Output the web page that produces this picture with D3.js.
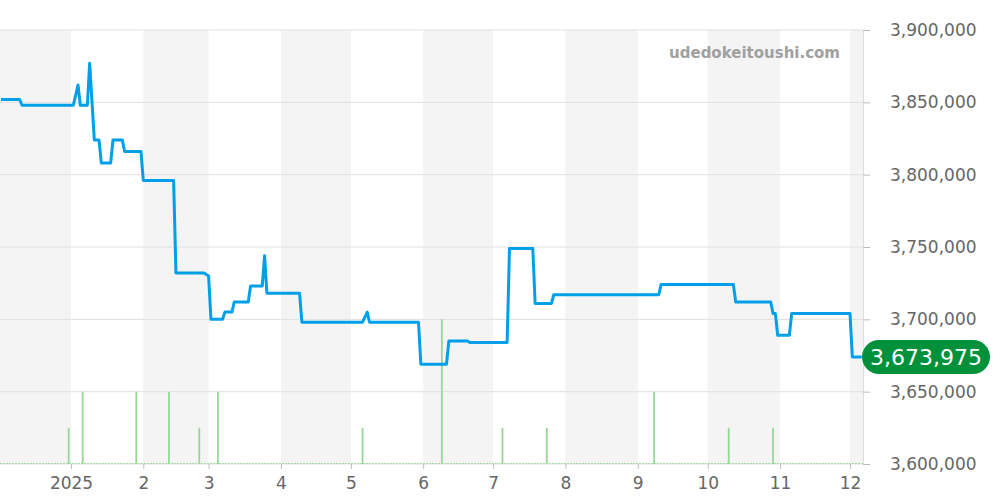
<!doctype html>
<html lang="en">
<head>
<meta charset="utf-8">
<title>Price chart</title>
<style>
  body { margin: 0; background: #fff; }
  svg { display: block; font-family: "DejaVu Sans", sans-serif; }
</style>
</head>
<body>
<div id="chart"></div>
<script src="https://cdn.jsdelivr.net/npm/d3@7"></script>
<script>
// price series (date, yen)
var priceDates = ["2024-12-02","2024-12-10","2024-12-11","2025-01-02","2025-01-04","2025-01-05","2025-01-08","2025-01-09",
  "2025-01-11","2025-01-13","2025-01-14","2025-01-18","2025-01-19","2025-01-23","2025-01-24","2025-01-31","2025-02-01",
  "2025-02-14","2025-02-15","2025-02-27","2025-03-01","2025-03-02","2025-03-07","2025-03-08","2025-03-11","2025-03-12",
  "2025-03-18","2025-03-19","2025-03-24","2025-03-25","2025-03-26","2025-04-09","2025-04-10","2025-05-06","2025-05-08",
  "2025-05-09","2025-05-30","2025-05-31","2025-06-11","2025-06-12","2025-06-20","2025-06-21","2025-07-07","2025-07-08",
  "2025-07-18","2025-07-19","2025-07-26","2025-07-27","2025-09-10","2025-09-11","2025-10-12","2025-10-13","2025-10-28",
  "2025-10-29","2025-10-30","2025-10-31","2025-11-05","2025-11-06","2025-12-01","2025-12-02","2025-12-06"];
var priceValues = [3852000,3852000,3848000,3848000,3862000,3848000,3848000,3877000,
  3824000,3824000,3808000,3808000,3824000,3824000,3816000,3816000,3796000,
  3796000,3732000,3732000,3730000,3700000,3700000,3705000,3705000,3712000,
  3712000,3723000,3723000,3744000,3718000,3718000,3698000,3698000,3705000,
  3698000,3698000,3669000,3669000,3685000,3685000,3684000,3684000,3749000,
  3749000,3711000,3711000,3717000,3717000,3724000,3724000,3712000,3712000,
  3704000,3704000,3689000,3689000,3704000,3704000,3673975,3673975];

// trade counts
var volumeDates = ["2024-12-31","2025-01-06","2025-01-29","2025-02-12","2025-02-25","2025-03-05","2025-05-06",
  "2025-06-09","2025-07-05","2025-07-24","2025-09-08","2025-10-10","2025-10-29"];
var volumeValues = [1,2,2,2,1,2,1,4,1,1,2,1,1];

var yTicks = [3600000,3650000,3700000,3750000,3800000,3850000,3900000];
var lastPrice = 3673975;
var siteName = "udedokeitoushi.com";

var W = 1000, H = 500;
var plotLeft = 0, plotRight = 863, plotTop = 30, plotBottom = 464;
var parse = d3.timeParse("%Y-%m-%d");

var svg = d3.select("#chart").append("svg")
  .attr("width", W)
  .attr("height", H);

// Jan 1 sits at x=71 and Dec 1 at x=850; stretch domain to the plot edges
var x = d3.scaleTime()
  .domain([new Date(2025, 0, 1), new Date(2025, 11, 1)])
  .range([71, 850]);
x.domain([x.invert(plotLeft), x.invert(plotRight)]).range([plotLeft, plotRight]);

var y = d3.scaleLinear()
  .domain([3600000, 3900000])
  .range([plotBottom, plotTop]);

var yVol = d3.scaleLinear()
  .domain([0, 12])
  .range([plotBottom, plotTop]);

// alternating month bands
var months = d3.timeMonth.range(d3.timeMonth.floor(x.domain()[0]), x.domain()[1]);
var shaded = months.filter(function(m) { return m.getMonth() % 2 === 1 || m.getMonth() === 11; });
svg.append("g").selectAll("rect")
  .data(shaded)
  .join("rect")
  .attr("x", function(d) { return Math.max(plotLeft, x(d)); })
  .attr("y", plotTop)
  .attr("width", function(d) {
    var end = d3.timeMonth.offset(d, 1);
    return Math.min(plotRight, x(end)) - Math.max(plotLeft, x(d));
  })
  .attr("height", plotBottom - plotTop)
  .attr("fill", "#f4f4f4");

// horizontal grid + right axis
var yAxis = svg.append("g")
  .attr("transform", "translate(" + plotRight + ",0)")
  .call(d3.axisRight(y).tickValues(yTicks).tickSize(7).tickPadding(20).tickFormat(d3.format(",")));
yAxis.select(".domain").attr("stroke", "#ddd");
yAxis.selectAll(".tick line").attr("stroke", "#bbb");
yAxis.selectAll(".tick text").attr("fill", "#666").attr("font-size", 17)
  .attr("font-family", "DejaVu Sans");

svg.append("g").selectAll("line")
  .data(yTicks)
  .join("line")
  .attr("x1", plotLeft)
  .attr("x2", plotRight)
  .attr("y1", function(d) { return y(d); })
  .attr("y2", function(d) { return y(d); })
  .attr("stroke", "#e0e0e0")
  .attr("stroke-width", 1);

// x axis
var xTicks = d3.timeMonth.range(new Date(2025, 0, 1), new Date(2025, 11, 2));
var xAxis = svg.append("g")
  .attr("transform", "translate(0," + plotBottom + ")")
  .call(d3.axisBottom(x).tickValues(xTicks).tickSize(5).tickPadding(8)
    .tickFormat(function(d) { return d.getMonth() === 0 ? d.getFullYear() : d.getMonth() + 1; }));
xAxis.select(".domain").remove();
xAxis.selectAll(".tick line").attr("stroke", "#bbb");
xAxis.selectAll(".tick text").attr("fill", "#666").attr("font-size", 17)
  .attr("font-family", "DejaVu Sans");

// volume bars
svg.append("line")
  .attr("x1", plotLeft)
  .attr("x2", plotRight)
  .attr("y1", plotBottom - 0.5)
  .attr("y2", plotBottom - 0.5)
  .attr("stroke", "#a6dca6")
  .attr("stroke-width", 1)
  .attr("stroke-dasharray", "2,1");

svg.append("g").selectAll("line")
  .data(volumeDates.map(function(d, i) { return {date: parse(d), v: volumeValues[i]}; }))
  .join("line")
  .attr("x1", function(d) { return x(d.date); })
  .attr("x2", function(d) { return x(d.date); })
  .attr("y1", plotBottom)
  .attr("y2", function(d) { return yVol(d.v); })
  .attr("stroke", "#96d996")
  .attr("stroke-width", 1.8);

// price line
var priceData = priceDates.map(function(d, i) { return {date: parse(d), v: priceValues[i]}; });
svg.append("path")
  .datum(priceData)
  .attr("fill", "none")
  .attr("stroke", "#00a0e9")
  .attr("stroke-width", 3)
  .attr("stroke-linejoin", "round")
  .attr("d", d3.line().x(function(d) { return x(d.date); }).y(function(d) { return y(d.v); }));

// watermark
svg.append("text")
  .attr("x", 840)
  .attr("y", 58)
  .attr("text-anchor", "end")
  .attr("font-size", 15)
  .attr("font-weight", "bold")
  .attr("fill", "#a0a0a0")
  .text(siteName);

// last price badge
var badge = svg.append("g")
  .attr("transform", "translate(0," + y(lastPrice) + ")");
badge.append("rect")
  .attr("x", 862)
  .attr("y", -17)
  .attr("width", 128)
  .attr("height", 34)
  .attr("rx", 17)
  .attr("fill", "#00913a");
badge.append("text")
  .attr("x", 926)
  .attr("y", 8)
  .attr("text-anchor", "middle")
  .attr("font-size", 22)
  .attr("fill", "#fff")
  .text(d3.format(",")(lastPrice));
</script>
</body>
</html>
